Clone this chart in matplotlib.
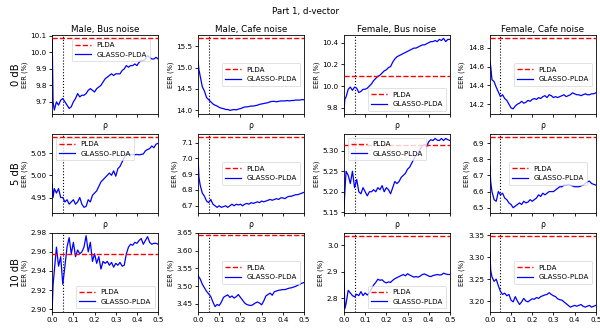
import matplotlib
matplotlib.use("Agg")
import matplotlib.pyplot as plt
from matplotlib.ticker import FormatStrFormatter

rho = [0.0, 0.004, 0.01, 0.02, 0.03, 0.04, 0.05, 0.06, 0.07, 0.08, 0.09, 0.10,
       0.11, 0.12, 0.13, 0.14, 0.15, 0.16, 0.17, 0.18, 0.19, 0.20,
       0.21, 0.22, 0.23, 0.24, 0.25, 0.26, 0.27, 0.28, 0.29, 0.30,
       0.31, 0.32, 0.33, 0.34, 0.35, 0.36, 0.37, 0.38, 0.39, 0.40,
       0.41, 0.42, 0.43, 0.44, 0.45, 0.46, 0.47, 0.48, 0.49, 0.50]

row_labels = ["0 dB", "5 dB", "10 dB"]
col_titles = ["Male, Bus noise", "Male, Cafe noise", "Female, Bus noise", "Female, Cafe noise"]
rho_star = 0.05

# ---- 0 dB ----
mb0 = [10.08, 9.70, 9.65, 9.70, 9.68, 9.71, 9.72, 9.70, 9.68, 9.66, 9.67, 9.70,
       9.72, 9.75, 9.73, 9.74, 9.74, 9.75, 9.77, 9.78, 9.77, 9.76,
       9.78, 9.79, 9.80, 9.82, 9.84, 9.85, 9.86, 9.87, 9.86, 9.87,
       9.87, 9.87, 9.89, 9.90, 9.92, 9.91, 9.92, 9.92, 9.93, 9.92,
       9.94, 9.95, 9.95, 9.96, 9.98, 9.97, 9.96, 9.96, 9.97, 9.96]
mc0 = [15.15, 14.95, 14.80, 14.55, 14.45, 14.30, 14.25, 14.20, 14.15, 14.12, 14.10, 14.07,
       14.05, 14.04, 14.02, 14.02, 14.00, 14.01, 14.02, 14.01, 14.03, 14.04,
       14.06, 14.08, 14.08, 14.09, 14.10, 14.10, 14.11, 14.12, 14.14, 14.15,
       14.16, 14.17, 14.18, 14.20, 14.21, 14.21, 14.20, 14.21, 14.22, 14.22,
       14.22, 14.23, 14.22, 14.23, 14.23, 14.24, 14.24, 14.24, 14.25, 14.25]
fb0 = [9.76, 9.88, 9.90, 9.97, 9.99, 9.96, 9.99, 9.98, 9.94, 9.95, 9.97, 9.97,
       9.98, 10.00, 10.02, 10.05, 10.07, 10.09, 10.10, 10.12, 10.14, 10.15,
       10.17, 10.18, 10.22, 10.25, 10.27, 10.28, 10.29, 10.30, 10.31, 10.32,
       10.33, 10.34, 10.35, 10.35, 10.36, 10.37, 10.38, 10.38, 10.39, 10.40,
       10.41, 10.41, 10.42, 10.41, 10.43, 10.42, 10.44, 10.41, 10.43, 10.43]
fc0 = [14.66, 14.60, 14.46, 14.44, 14.38, 14.33, 14.28, 14.30, 14.26, 14.24, 14.20, 14.16,
       14.15, 14.18, 14.20, 14.21, 14.23, 14.21, 14.22, 14.24, 14.23, 14.25,
       14.26, 14.25, 14.27, 14.26, 14.28, 14.29, 14.27, 14.30, 14.29, 14.27,
       14.28, 14.27, 14.28, 14.29, 14.30, 14.28, 14.29, 14.30, 14.32, 14.31,
       14.30, 14.30, 14.29, 14.30, 14.31, 14.30, 14.30, 14.31, 14.31, 14.32]
# ---- 5 dB ----
mb5 = [4.980, 4.950, 4.970, 4.960, 4.970, 4.950, 4.950, 4.940, 4.945, 4.935, 4.940, 4.945,
       4.935, 4.940, 4.950, 4.935, 4.928, 4.930, 4.945, 4.940, 4.955, 4.960,
       4.965, 4.975, 4.985, 4.990, 4.995, 5.000, 5.005, 5.000, 5.010, 4.998,
       5.015, 5.020, 5.030, 5.040, 5.048, 5.050, 5.046, 5.047, 5.046, 5.047,
       5.046, 5.047, 5.048, 5.055, 5.058, 5.060, 5.066, 5.062, 5.070, 5.072]
mc5 = [7.00, 6.88, 6.83, 6.78, 6.76, 6.73, 6.72, 6.74, 6.71, 6.70, 6.69, 6.70,
       6.69, 6.695, 6.70, 6.69, 6.70, 6.71, 6.70, 6.71, 6.705, 6.71,
       6.70, 6.71, 6.715, 6.71, 6.72, 6.715, 6.72, 6.725, 6.72, 6.73,
       6.725, 6.73, 6.735, 6.74, 6.735, 6.74, 6.745, 6.74, 6.75, 6.75,
       6.745, 6.755, 6.76, 6.76, 6.765, 6.77, 6.77, 6.775, 6.78, 6.785]
fb5 = [5.159, 5.200, 5.250, 5.240, 5.220, 5.250, 5.210, 5.230, 5.200, 5.195, 5.210, 5.200,
       5.190, 5.200, 5.200, 5.205, 5.200, 5.210, 5.205, 5.215, 5.200, 5.210,
       5.205, 5.195, 5.210, 5.225, 5.220, 5.225, 5.235, 5.240, 5.245, 5.255,
       5.260, 5.270, 5.280, 5.290, 5.295, 5.305, 5.312, 5.315, 5.310, 5.322,
       5.327, 5.325, 5.330, 5.326, 5.325, 5.330, 5.325, 5.330, 5.327, 5.325]
fc5 = [6.76, 6.66, 6.60, 6.55, 6.54, 6.60, 6.58, 6.59, 6.56, 6.55, 6.53, 6.52,
       6.50, 6.51, 6.52, 6.53, 6.52, 6.54, 6.53, 6.535, 6.55, 6.54,
       6.55, 6.56, 6.58, 6.57, 6.59, 6.58, 6.59, 6.60, 6.60, 6.60,
       6.61, 6.62, 6.63, 6.63, 6.64, 6.64, 6.645, 6.64, 6.635, 6.63,
       6.63, 6.63, 6.635, 6.64, 6.65, 6.66, 6.665, 6.65, 6.645, 6.64]
# ---- 10 dB ----
mb10 = [2.900, 2.925, 2.940, 2.965, 2.945, 2.955, 2.926, 2.945, 2.965, 2.975, 2.958, 2.970,
        2.955, 2.962, 2.958, 2.960, 2.965, 2.977, 2.960, 2.970, 2.950, 2.958,
        2.948, 2.955, 2.942, 2.950, 2.948, 2.950, 2.946, 2.949, 2.944, 2.948,
        2.946, 2.949, 2.945, 2.946, 2.958, 2.965, 2.968, 2.967, 2.970, 2.969,
        2.972, 2.974, 2.968, 2.972, 2.976, 2.970, 2.968, 2.969, 2.969, 2.968]
mc10 = [3.532, 3.525, 3.520, 3.505, 3.495, 3.485, 3.478, 3.470, 3.455, 3.442, 3.448, 3.445,
        3.455, 3.468, 3.472, 3.475, 3.468, 3.472, 3.466, 3.470, 3.476, 3.468,
        3.460, 3.452, 3.448, 3.446, 3.445, 3.448, 3.452, 3.455, 3.452, 3.447,
        3.458, 3.472, 3.476, 3.480, 3.474, 3.484, 3.486, 3.488, 3.489, 3.490,
        3.490, 3.492, 3.494, 3.495, 3.497, 3.499, 3.502, 3.505, 3.508, 3.510]
fb10 = [2.900, 2.760, 2.780, 2.830, 2.820, 2.810, 2.805, 2.815, 2.810, 2.825, 2.810, 2.820,
        2.812, 2.820, 2.835, 2.850, 2.860, 2.872, 2.868, 2.870, 2.862, 2.858,
        2.862, 2.860, 2.868, 2.874, 2.878, 2.882, 2.886, 2.890, 2.885, 2.893,
        2.888, 2.884, 2.880, 2.882, 2.880, 2.884, 2.890, 2.892, 2.888, 2.884,
        2.882, 2.886, 2.888, 2.890, 2.888, 2.889, 2.895, 2.892, 2.890, 2.890]
fc10 = [3.315, 3.270, 3.255, 3.245, 3.250, 3.235, 3.222, 3.215, 3.218, 3.212, 3.215, 3.202,
        3.198, 3.210, 3.200, 3.192, 3.198, 3.206, 3.200, 3.198, 3.202, 3.205,
        3.204, 3.208, 3.206, 3.210, 3.212, 3.214, 3.215, 3.219, 3.215, 3.212,
        3.210, 3.205, 3.203, 3.202, 3.198, 3.194, 3.190, 3.186, 3.188, 3.190,
        3.188, 3.190, 3.192, 3.188, 3.186, 3.188, 3.190, 3.186, 3.188, 3.190]

glasso = [[mb0, mc0, fb0, fc0], [mb5, mc5, fb5, fc5], [mb10, mc10, fb10, fc10]]
plda = [[10.085, 15.69, 10.088, 14.90],
        [5.0856, 7.1375, 5.3145, 6.940],
        [2.958, 3.643, 3.037, 3.3485]]
ylims = [[(9.625, 10.105), (13.91, 15.76), (9.74, 10.47), (14.093, 14.935)],
         [(4.915, 5.093), (6.654, 7.154), (5.148, 5.341), (6.467, 6.957)],
         [(2.897, 2.980), (3.427, 3.650), (2.748, 3.048), (3.175, 3.356)]]
yticks = [[[9.7, 9.8, 9.9, 10.0, 10.1], [14.0, 14.5, 15.0, 15.5], [9.8, 10.0, 10.2, 10.4], [14.2, 14.4, 14.6, 14.8]],
          [[4.95, 5.00, 5.05], [6.7, 6.8, 6.9, 7.0, 7.1], [5.15, 5.20, 5.25, 5.30], [6.5, 6.6, 6.7, 6.8, 6.9]],
          [[2.90, 2.92, 2.94, 2.96, 2.98], [3.45, 3.50, 3.55, 3.60, 3.65], [2.8, 2.9, 3.0], [3.20, 3.25, 3.30, 3.35]]]
ytickfmt = [["%.1f", "%.1f", "%.1f", "%.1f"],
            ["%.2f", "%.1f", "%.2f", "%.1f"],
            ["%.2f", "%.2f", "%.1f", "%.2f"]]
legend_locs = [[("upper left", (0.15, 1.0)), ("center right", None), ("lower right", None), ("center right", None)],
               [("upper left", None), ("center right", None), ("upper left", None), ("center", (0.55, 0.5))],
               [("lower right", None), ("center right", None), ("lower right", None), ("center right", None)]]
xticks = [0.0, 0.1, 0.2, 0.3, 0.4, 0.5]

fig, axes = plt.subplots(3, 4, figsize=(6.0, 3.28), dpi=100)
fig.subplots_adjust(left=0.087, right=0.993, top=0.893, bottom=0.049, wspace=0.377, hspace=0.25)

for r in range(3):
    for c in range(4):
        ax = axes[r][c]
        ax.axhline(plda[r][c], color="red", linestyle="--", linewidth=1.0, label="PLDA", zorder=3)
        ax.plot(rho, glasso[r][c], color="blue", linewidth=0.9, label="GLASSO-PLDA", zorder=2)
        ax.axvline(rho_star, color="black", linestyle=":", linewidth=0.8, zorder=1)
        ax.set_xlim(0, 0.5)
        ax.set_ylim(*ylims[r][c])
        ax.set_yticks(yticks[r][c])
        ax.yaxis.set_major_formatter(FormatStrFormatter(ytickfmt[r][c]))
        ax.set_xticks(xticks)
        ax.tick_params(labelsize=5.2, length=2.5, width=0.6, pad=1.5)
        for s in ax.spines.values():
            s.set_linewidth(0.6)
        ax.set_ylabel("EER (%)", fontsize=4.8, labelpad=2)
        if r < 2:
            ax.set_xticklabels([])
            ax.set_xlabel("ρ", fontsize=5.5, labelpad=1)
        if r == 0:
            ax.set_title(col_titles[c], fontsize=6.3, pad=2.5)
        loc, anchor = legend_locs[r][c]
        kw = dict(loc=loc, fontsize=5.1, handlelength=2.2, borderpad=0.5, labelspacing=0.5,
                  framealpha=0.8, edgecolor="#cccccc", fancybox=True)
        if anchor is not None:
            kw["bbox_to_anchor"] = anchor
        leg = ax.legend(**kw)
        leg.get_frame().set_linewidth(0.5)

for r in range(3):
    pos = axes[r][0].get_position()
    fig.text(0.026, (pos.y0 + pos.y1) / 2, row_labels[r], rotation=90,
             ha="center", va="center", fontsize=7.2)

fig.suptitle("Part 1, d-vector", fontsize=6.3, x=0.51, y=0.978)

fig.savefig("out.png", dpi=100)
